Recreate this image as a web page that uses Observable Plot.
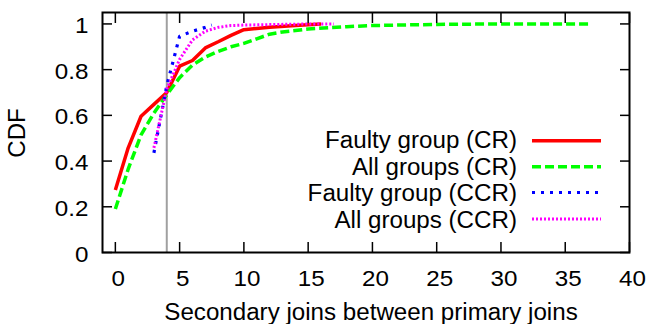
<!DOCTYPE html>
<html>
<head>
<meta charset="utf-8">
<script src="https://cdn.jsdelivr.net/npm/d3@7"></script>
<script src="https://cdn.jsdelivr.net/npm/@observablehq/plot@0.6"></script>
<style>
  html, body { margin: 0; padding: 0; background: white; }
  #wrap { position: relative; width: 647px; height: 324px; }
  #legend { position: absolute; left: 0; top: 0; pointer-events: none; }
</style>
</head>
<body>
<div id="wrap"></div>
<script>
// ---- data ----
const seriesNames = ["Faulty group (CR)", "All groups (CR)", "Faulty group (CCR)", "All groups (CCR)"];
const faultyCR_x = [0, 1, 2, 3, 4, 5, 6, 7, 8, 9, 10, 12, 14, 16];
const faultyCR_y = [0.273, 0.458, 0.596, 0.648, 0.70, 0.815, 0.84, 0.895, 0.922, 0.95, 0.975, 0.985, 0.993, 1.0];
const allCR_x = [0, 1, 2, 3, 4, 5, 6, 7, 8, 9, 10, 11, 12, 13, 15, 18, 20, 25, 30, 37];
const allCR_y = [0.19, 0.365, 0.515, 0.61, 0.69, 0.765, 0.82, 0.855, 0.88, 0.9, 0.915, 0.935, 0.955, 0.965, 0.978, 0.988, 0.993, 0.998, 1.0, 1.0];
const faultyCCR_x = [3, 4, 5, 6, 7, 7.5];
const faultyCCR_y = [0.436, 0.73, 0.946, 0.968, 0.985, 0.995];
const allCCR_x = [3, 4, 5, 6, 7, 8, 9, 10, 12, 14, 17];
const allCCR_y = [0.458, 0.715, 0.845, 0.93, 0.968, 0.985, 0.993, 0.995, 0.997, 0.999, 1.0];
const markerX = [4];
const xTicks = [0, 5, 10, 15, 20, 25, 30, 35, 40];
const yTicks = [0, 0.2, 0.4, 0.6, 0.8, 1];
const xLabel = "Secondary joins between primary joins";
const yLabel = "CDF";

// ---- styles ----
const styles = [
  {stroke: "#ff0000", strokeWidth: 3.5, strokeDasharray: null},
  {stroke: "#00ff00", strokeWidth: 3.5, strokeDasharray: "9,4"},
  {stroke: "#0000ff", strokeWidth: 3.2, strokeDasharray: "3,6"},
  {stroke: "#ff00ff", strokeWidth: 3, strokeDasharray: "2,2"}
];
const toRows = (xs, ys) => xs.map((x, i) => ({x, y: ys[i]}));
const seriesData = [
  toRows(faultyCR_x, faultyCR_y),
  toRows(allCR_x, allCR_y),
  toRows(faultyCCR_x, faultyCCR_y),
  toRows(allCCR_x, allCCR_y)
];

const font = "'Liberation Sans', Arial, Helvetica, sans-serif";

const chart = Plot.plot({
  width: 647,
  height: 324,
  marginLeft: 102,
  marginRight: 18,
  marginTop: 12,
  marginBottom: 72,
  x: {domain: [-1, 40], label: null},
  y: {domain: [0, 1.05], label: null},
  style: {fontFamily: font, fontSize: "22px", color: "black", background: "white", overflow: "visible"},
  marks: [
    Plot.ruleX(markerX, {stroke: "#a0a0a0", strokeWidth: 2}),
    ...seriesData.map((d, i) => Plot.line(d, {
      x: "x", y: "y",
      stroke: styles[i].stroke,
      strokeWidth: styles[i].strokeWidth,
      strokeDasharray: styles[i].strokeDasharray,
      strokeLinecap: "butt",
      strokeLinejoin: "miter"
    })),
    Plot.axisX({anchor: "bottom", ticks: xTicks, tickSize: -10, tickFormat: () => "", strokeWidth: 1.5, label: null}),
    Plot.axisX({anchor: "top", ticks: xTicks, tickSize: -10, tickFormat: () => "", strokeWidth: 1.5, label: null}),
    Plot.axisY({anchor: "left", ticks: yTicks, tickSize: -10, tickFormat: () => "", strokeWidth: 1.5, label: null}),
    Plot.axisY({anchor: "right", ticks: yTicks, tickSize: -10, tickFormat: () => "", strokeWidth: 1.5, label: null}),
    Plot.axisX({anchor: "bottom", ticks: xTicks, tickSize: 0, tickPadding: 18, dx: 3, tickFormat: d => String(d), label: null, fontSize: 22}),
    Plot.axisY({anchor: "left", ticks: yTicks, tickSize: 0, tickPadding: 14, dy: 2, tickFormat: d => String(d), label: null, fontSize: 22}),
    Plot.frame({stroke: "black", strokeWidth: 2}),
    Plot.text([xLabel], {frameAnchor: "bottom", lineAnchor: "middle", textAnchor: "middle", text: d => d, dy: 60, dx: 5, fontSize: 23}),
    Plot.text([yLabel], {frameAnchor: "left", lineAnchor: "middle", textAnchor: "middle", text: d => d, rotate: -90, dx: -85, dy: 0.5, fontSize: 23})
  ]
});

const wrap = document.getElementById("wrap");
wrap.appendChild(chart);

// ---- legend overlay ----
const leg = d3.select(wrap).append("svg")
  .attr("id", "legend")
  .attr("width", 647).attr("height", 324)
  .style("font-family", font);
const rowBase = [148.3, 174.8, 201.3, 227.8];
const rowLine = [140.7, 166.7, 192.5, 219];
seriesNames.forEach((name, i) => {
  leg.append("text")
    .attr("x", 517).attr("y", rowBase[i])
    .attr("text-anchor", "end")
    .style("font-size", "23px")
    .text(name);
  leg.append("line")
    .attr("x1", 532).attr("x2", 601)
    .attr("y1", rowLine[i]).attr("y2", rowLine[i])
    .attr("stroke", styles[i].stroke)
    .attr("stroke-width", styles[i].strokeWidth)
    .attr("stroke-dasharray", styles[i].strokeDasharray);
});

// widen glyphs slightly to match the reference's rendering
wrap.querySelectorAll("text").forEach(el => {
  const w = el.getComputedTextLength();
  if (!w) return;
  const fs = parseFloat(getComputedStyle(el).fontSize);
  const k = fs <= 22 ? 1.1 : 1.05;
  el.setAttribute("textLength", (w * k).toFixed(2));
  el.setAttribute("lengthAdjust", "spacingAndGlyphs");
});
</script>
</body>
</html>
